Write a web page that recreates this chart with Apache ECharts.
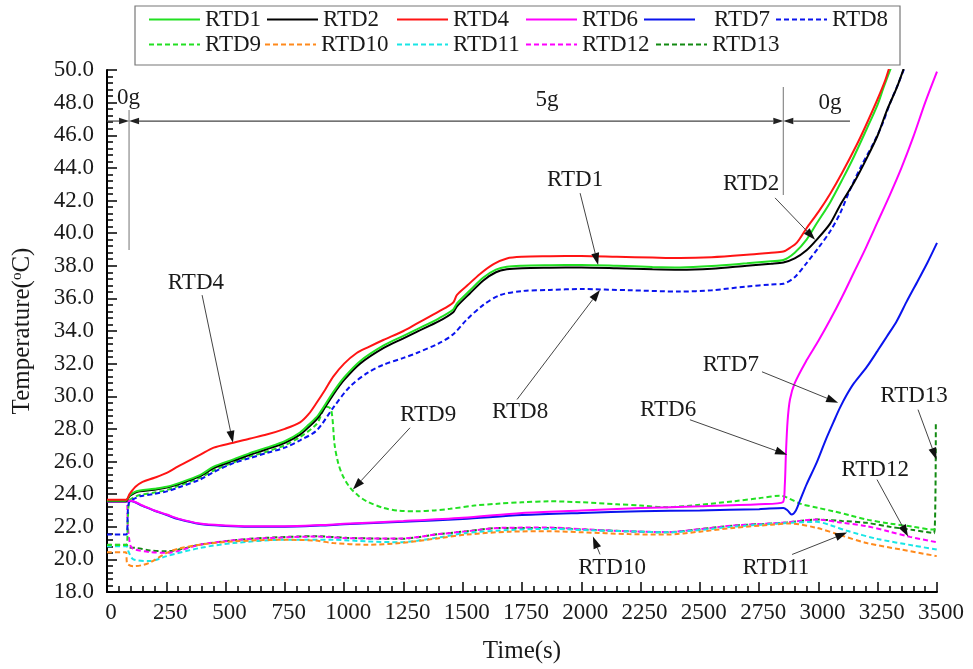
<!DOCTYPE html>
<html>
<head>
<meta charset="utf-8">
<script src="https://cdn.jsdelivr.net/npm/echarts@6/dist/echarts.min.js"></script>
<style>
  html, body { margin: 0; padding: 0; background: #fff; }
  #chart { width: 973px; height: 669px; }
</style>
</head>
<body>
<div id="chart"></div>
<script>
// ---- temperature records: [time (s), temperature (°C)] ----
const rtd1 = [[0,23.6],[80,23.6],[90,23.8],[97,23.95],[120,24.15],[139,24.22],[200,24.33],[252,24.45],[300,24.66],[392,25.16],[450,25.68],[533,26.13],[600,26.5],[673,26.85],[750,27.25],[814,27.78],[850,28.25],[891,28.85],[954,30.25],[1000,31.15],[1067,32.15],[1165,33.1],[1250,33.7],[1306,34.1],[1400,34.78],[1460,35.32],[1475,35.68],[1530,36.48],[1587,37.28],[1640,37.76],[1686,37.94],[1750,38.0],[1868,38.03],[2000,38.05],[2150,38.0],[2300,37.93],[2416,37.9],[2550,37.98],[2698,38.15],[2800,38.28],[2852,38.35],[2900,38.8],[2950,39.6],[2993,40.6],[3050,41.9],[3105,43.4],[3150,44.7],[3204,46.4],[3250,47.9],[3274,48.9],[3305,50.1]];
const rtd2 = [[0,23.56],[80,23.56],[90,23.75],[97,23.9],[120,24.1],[139,24.17],[200,24.27],[252,24.4],[300,24.6],[392,25.1],[450,25.6],[533,26.05],[600,26.4],[673,26.75],[750,27.15],[814,27.65],[850,28.1],[891,28.7],[954,30.1],[1000,31.0],[1067,32.0],[1165,32.95],[1250,33.55],[1306,33.95],[1400,34.6],[1460,35.15],[1475,35.5],[1530,36.3],[1587,37.1],[1640,37.6],[1686,37.78],[1750,37.85],[1868,37.88],[2000,37.9],[2150,37.85],[2300,37.78],[2416,37.75],[2550,37.82],[2698,38.0],[2800,38.12],[2852,38.2],[2900,38.45],[2950,38.95],[2993,39.6],[3050,40.6],[3091,41.7],[3150,43.1],[3204,44.6],[3250,46.0],[3288,47.5],[3330,48.9],[3360,50.1]];
const rtd4 = [[0,23.65],[80,23.65],[95,24.0],[120,24.45],[150,24.75],[200,25.0],[252,25.3],[300,25.7],[392,26.4],[450,26.85],[533,27.15],[600,27.4],[673,27.65],[750,28.0],[814,28.4],[850,28.9],[884,29.6],[920,30.4],[954,31.2],[1000,32.0],[1053,32.65],[1100,33.0],[1165,33.45],[1250,34.0],[1306,34.45],[1400,35.2],[1460,35.75],[1475,36.2],[1520,36.8],[1573,37.5],[1630,38.1],[1686,38.45],[1750,38.55],[1868,38.58],[2000,38.6],[2150,38.55],[2300,38.5],[2416,38.47],[2550,38.52],[2698,38.67],[2800,38.8],[2852,38.87],[2880,39.1],[2908,39.4],[2950,40.3],[3000,41.3],[3049,42.4],[3100,43.7],[3161,45.4],[3200,46.6],[3246,48.1],[3280,49.3],[3300,50.2]];
const rtd6 = [[0,23.55],[82,23.55],[100,23.6],[150,23.3],[200,23.0],[252,22.75],[300,22.5],[392,22.2],[500,22.08],[600,22.03],[750,22.03],[900,22.1],[1000,22.18],[1250,22.35],[1500,22.55],[1750,22.85],[2000,23.0],[2250,23.15],[2500,23.25],[2750,23.38],[2850,23.5],[2858,24.5],[2863,26.5],[2870,28.5],[2880,29.8],[2900,30.8],[2950,32.2],[3000,33.4],[3050,34.7],[3100,36.1],[3150,37.6],[3200,39.1],[3250,40.7],[3300,42.3],[3350,44.0],[3400,45.9],[3450,48.0],[3500,49.9]];
const rtd7 = [[0,23.55],[82,23.55],[100,23.58],[150,23.28],[200,22.98],[252,22.72],[300,22.47],[392,22.17],[500,22.05],[600,22.0],[750,22.0],[900,22.07],[1000,22.15],[1250,22.3],[1500,22.48],[1750,22.72],[2000,22.85],[2250,22.95],[2500,23.0],[2750,23.08],[2852,23.15],[2870,23.0],[2887,22.75],[2905,23.0],[2922,23.6],[2950,24.6],[2993,25.95],[3030,27.3],[3063,28.4],[3091,29.3],[3120,30.1],[3150,30.8],[3204,31.8],[3250,32.8],[3288,33.65],[3330,34.6],[3372,35.8],[3420,37.1],[3460,38.2],[3500,39.4]];
const rtd8 = [[0,21.52],[82,21.52],[88,23.0],[95,23.55],[120,23.75],[139,23.87],[200,24.02],[252,24.17],[300,24.4],[392,24.89],[450,25.35],[533,25.9],[600,26.2],[673,26.52],[750,26.85],[814,27.3],[884,27.9],[954,29.3],[1025,30.6],[1100,31.45],[1165,31.93],[1250,32.35],[1306,32.65],[1400,33.25],[1460,33.8],[1517,34.7],[1587,35.6],[1657,36.2],[1750,36.45],[1868,36.52],[2000,36.57],[2200,36.5],[2416,36.42],[2550,36.5],[2698,36.73],[2800,36.85],[2852,36.9],[2900,37.3],[2950,38.16],[3000,39.1],[3049,40.1],[3091,41.2],[3133,42.65],[3180,44.1],[3232,45.5],[3270,46.7],[3302,47.96],[3335,49.1],[3362,50.1]];
const rtd9 = [[0,20.88],[82,20.88],[88,22.5],[95,23.6],[120,23.85],[139,23.95],[200,24.1],[252,24.25],[300,24.5],[392,25.0],[450,25.45],[533,25.95],[600,26.3],[673,26.6],[750,27.0],[814,27.5],[884,28.3],[925,29.35],[945,29.2],[960,27.0],[975,25.9],[995,25.1],[1025,24.4],[1060,23.9],[1095,23.56],[1165,23.16],[1230,22.98],[1306,22.95],[1380,23.0],[1447,23.1],[1550,23.3],[1657,23.42],[1750,23.5],[1868,23.56],[2000,23.5],[2150,23.38],[2250,23.3],[2360,23.2],[2500,23.35],[2641,23.56],[2750,23.75],[2838,23.9],[2866,23.8],[2922,23.42],[3000,23.15],[3063,22.95],[3133,22.7],[3204,22.44],[3300,22.2],[3400,22.0],[3480,21.83],[3500,21.85]];
const rtd10 = [[0,20.44],[80,20.44],[85,19.75],[111,19.58],[150,19.65],[181,19.8],[252,20.4],[300,20.65],[392,20.9],[533,21.1],[744,21.2],[880,21.15],[954,21.0],[1095,20.9],[1236,21.0],[1400,21.3],[1517,21.52],[1700,21.7],[1868,21.72],[2007,21.66],[2200,21.55],[2360,21.52],[2500,21.7],[2641,21.93],[2800,22.12],[2880,22.2],[2993,21.93],[3100,21.45],[3204,21.0],[3350,20.6],[3499,20.2]];
const rtd11 = [[0,20.8],[82,20.8],[90,20.5],[111,20.0],[181,19.9],[252,20.2],[392,20.7],[533,21.0],[744,21.2],[954,21.2],[1100,21.1],[1236,21.05],[1400,21.35],[1517,21.62],[1700,21.8],[1868,21.87],[2007,21.8],[2200,21.72],[2360,21.66],[2500,21.8],[2641,22.0],[2852,22.22],[2993,22.3],[3050,22.1],[3121,21.75],[3250,21.25],[3400,20.85],[3499,20.6]];
const rtd12 = [[0,23.6],[82,23.6],[88,22.0],[100,20.8],[118,20.6],[181,20.45],[252,20.4],[392,20.9],[533,21.17],[673,21.3],[884,21.4],[1011,21.3],[1236,21.28],[1400,21.55],[1517,21.72],[1657,21.93],[1868,21.95],[2007,21.85],[2200,21.72],[2360,21.68],[2500,21.85],[2641,22.07],[2852,22.25],[2993,22.44],[3100,22.25],[3204,22.03],[3300,21.7],[3386,21.38],[3499,21.05]];
const rtd13 = [[0,20.9],[82,20.9],[90,20.75],[125,20.7],[181,20.55],[252,20.5],[392,20.9],[533,21.17],[673,21.32],[884,21.42],[1011,21.32],[1236,21.26],[1400,21.55],[1517,21.72],[1657,21.93],[1868,21.93],[2007,21.83],[2200,21.72],[2360,21.66],[2500,21.85],[2641,22.07],[2852,22.24],[2993,22.44],[3100,22.35],[3204,22.24],[3300,22.0],[3400,21.8],[3488,21.6],[3495,28.4]];

// axis ranges
const timeRange = [0, 3500, 250];
const tempRange = [18, 50, 2];

// series look-up: name, data, colour, dashed
const seriesDefs = [
  ['RTD13', rtd13, '#128a12', true],
  ['RTD12', rtd12, '#ff00ff', true],
  ['RTD11', rtd11, '#19e6e6', true],
  ['RTD10', rtd10, '#ff8a1c', true],
  ['RTD9',  rtd9,  '#22e022', true],
  ['RTD8',  rtd8,  '#0a14ee', true],
  ['RTD7',  rtd7,  '#0a14ee', false],
  ['RTD6',  rtd6,  '#ff00ff', false],
  ['RTD2',  rtd2,  '#000000', false],
  ['RTD1',  rtd1,  '#22e022', false],
  ['RTD4',  rtd4,  '#ff1414', false]
];

// legend layout: two rows of items
const legendRow1 = ['RTD1', 'RTD2', 'RTD4', 'RTD6', 'RTD7', 'RTD8'];
const legendRow2 = ['RTD9', 'RTD10', 'RTD11', 'RTD12', 'RTD13'];
const legendCols1 = [148, 266, 396, 525, 643, 775];
const legendCols2 = [148, 264, 396, 525, 655];

// callout texts with arrows, anchored in data units [time, temp]
const callouts = [
  { text: 'RTD4',  at: [375, 36.95],  from: [401, 36.2],   to: [531, 27.15] },
  { text: 'RTD1',  at: [1974, 43.26], from: [1995, 42.45], to: [2071, 38.05] },
  { text: 'RTD2',  at: [2716, 43.02], from: [2817, 42.16], to: [2986, 39.6] },
  { text: 'RTD8',  at: [1742, 29.05], from: [1729, 29.8],  to: [2079, 36.52] },
  { text: 'RTD9',  at: [1354, 28.87], from: [1278, 28.07], to: [1037, 24.28] },
  { text: 'RTD6',  at: [2366, 29.18], from: [2458, 28.56], to: [2868, 26.42] },
  { text: 'RTD7',  at: [2631, 31.93], from: [2762, 31.5],  to: [3083, 29.6] },
  { text: 'RTD13', at: [3403, 30.03], from: [3420, 29.18], to: [3498, 26.11] },
  { text: 'RTD12', at: [3239, 25.5],  from: [3247, 24.89], to: [3378, 21.4] },
  { text: 'RTD11', at: [2821, 19.5],  from: [2889, 20.3],  to: [3121, 21.64] },
  { text: 'RTD10', at: [2130, 19.5],  from: [2079, 20.3],  to: [2049, 21.4] }
];

// acceleration phases
const phaseBounds = [93, 2852];
const phaseEnd = 3133;
const phaseLabels = [['0g', 91, 48.28], ['5g', 1855, 48.16], ['0g', 3049, 47.97]];

const FONT = '"Liberation Serif", "Times New Roman", serif';
const TEXT = '#1a1a1a';

const chart = echarts.init(document.getElementById('chart'), null, { renderer: 'canvas' });

function legendFor(name, left, top) {
  return {
    data: [name], left: left, top: top, orient: 'horizontal',
    itemWidth: 51, itemHeight: 14, itemGap: 0, padding: 0,
    itemStyle: { opacity: 0 },
    textStyle: { fontFamily: FONT, fontSize: 23, color: TEXT,
      padding: name === 'RTD7' ? [0, 0, 0, 14] : 0 },
    selectedMode: false
  };
}

const legends = [];
legendRow1.forEach((n, i) => legends.push(legendFor(n, legendCols1[i], 8)));
legendRow2.forEach((n, i) => legends.push(legendFor(n, legendCols2[i], 33)));

const option = {
  backgroundColor: '#fff',
  animation: false,
  grid: { left: 107, right: 36, top: 70, bottom: 77 },
  legend: legends,
  xAxis: {
    type: 'value', min: timeRange[0], max: timeRange[1], interval: timeRange[2],
    name: 'Time(s)', nameLocation: 'middle', nameGap: 47,
    nameTextStyle: { fontFamily: FONT, fontSize: 25, color: TEXT },
    axisLine: { onZero: false, lineStyle: { color: '#000', width: 2 } },
    axisTick: { inside: true, length: 10, lineStyle: { color: '#000', width: 1.5 } },
    minorTick: { show: true, splitNumber: 5, length: 6, lineStyle: { color: '#000', width: 1.5 } },
    splitLine: { show: false },
    axisLabel: { fontFamily: FONT, fontSize: 23, color: TEXT, margin: 9, padding: [0, 0, 0, 8],
      formatter: v => String(v) }
  },
  yAxis: {
    type: 'value', min: tempRange[0], max: tempRange[1], interval: tempRange[2],
    name: 'Temperature({sup|o}C)', nameLocation: 'middle', nameGap: 72, nameRotate: 90,
    nameTextStyle: { fontFamily: FONT, fontSize: 25, color: TEXT,
      rich: { sup: { fontFamily: FONT, fontSize: 15, color: TEXT, verticalAlign: 'top', lineHeight: 25 } } },
    axisLine: { show: true, onZero: false, lineStyle: { color: '#000', width: 2 } },
    axisTick: { show: true, inside: true, length: 10, lineStyle: { color: '#000', width: 1.5 } },
    minorTick: { show: true, splitNumber: 5, length: 6, lineStyle: { color: '#000', width: 1.5 } },
    splitLine: { show: false },
    axisLabel: { fontFamily: FONT, fontSize: 23, color: TEXT, margin: 13,
      formatter: v => v.toFixed(1) }
  },
  series: seriesDefs.map(([name, data, color, dashed]) => ({
    name: name, type: 'line', data: data,
    symbol: 'none', showSymbol: false, smooth: 0.3,
    clip: true,
    lineStyle: { color: color, width: 2, type: dashed ? [5, 3] : 'solid' },
    itemStyle: { color: color },
    emphasis: { disabled: true }
  }))
};

chart.setOption(option);

// ---- overlay: legend frame, phase markers, callouts ----
const px = p => chart.convertToPixel({ gridIndex: 0 }, p);

function arrowHead(tip, tail, len, half, color) {
  const dx = tip[0] - tail[0], dy = tip[1] - tail[1];
  const L = Math.hypot(dx, dy) || 1;
  const ux = dx / L, uy = dy / L;
  const bx = tip[0] - ux * len, by = tip[1] - uy * len;
  return {
    base: [bx, by],
    el: { type: 'polygon', z: 100, silent: true,
      shape: { points: [tip, [bx - uy * half, by + ux * half], [bx + uy * half, by - ux * half]] },
      style: { fill: color } }
  };
}

const g = [];
// legend frame
g.push({ type: 'rect', z: 90, silent: true, shape: { x: 135, y: 6, width: 765, height: 59 },
  style: { fill: 'none', stroke: '#777', lineWidth: 1.2 } });

// phase dividers
const vLeftTop = px([phaseBounds[0], 47.55]), vLeftBot = px([phaseBounds[0], 38.97]);
const vRightTop = px([phaseBounds[1], 48.96]), vRightBot = px([phaseBounds[1], 42.34]);
[[vLeftTop, vLeftBot], [vRightTop, vRightBot]].forEach(([a, b]) => g.push({
  type: 'line', z: 100, silent: true, shape: { x1: a[0], y1: a[1], x2: b[0], y2: b[1] },
  style: { stroke: '#8a8a8a', lineWidth: 1.2 } }));

// dimension arrows along the phase row
const rowT = 46.87;
const segs = [[0, phaseBounds[0], false, true], [phaseBounds[0], phaseBounds[1], true, true], [phaseBounds[1], phaseEnd, true, false]];
segs.forEach(([t0, t1, headStart, headEnd]) => {
  const a = px([t0, rowT]), b = px([t1, rowT]);
  let s = a.slice(), e = b.slice();
  if (headStart) { const h = arrowHead(a, b, 10, 3.2, '#222'); g.push(h.el); s = h.base; }
  if (headEnd) { const h = arrowHead(b, a, 10, 3.2, '#222'); g.push(h.el); e = h.base; }
  g.push({ type: 'line', z: 100, silent: true, shape: { x1: s[0], y1: s[1], x2: e[0], y2: e[1] },
    style: { stroke: '#444', lineWidth: 1.2 } });
});
phaseLabels.forEach(([txt, t, v]) => {
  const p = px([t, v]);
  g.push({ type: 'text', z: 100, silent: true, x: p[0], y: p[1],
    style: { text: txt, font: '23px ' + FONT, fill: TEXT, align: 'center', verticalAlign: 'middle',
      textAlign: 'center', textVerticalAlign: 'middle' } });
});

// callouts
callouts.forEach(c => {
  const at = px(c.at), from = px(c.from), to = px(c.to);
  const h = arrowHead(to, from, 12, 4, '#111');
  g.push({ type: 'line', z: 100, silent: true, shape: { x1: from[0], y1: from[1], x2: h.base[0], y2: h.base[1] },
    style: { stroke: '#444', lineWidth: 1 } });
  g.push(h.el);
  g.push({ type: 'text', z: 100, silent: true, x: at[0], y: at[1],
    style: { text: c.text, font: '23px ' + FONT, fill: TEXT, align: 'center', verticalAlign: 'middle',
      textAlign: 'center', textVerticalAlign: 'middle' } });
});

chart.setOption({ graphic: { elements: g } });
</script>
</body>
</html>
